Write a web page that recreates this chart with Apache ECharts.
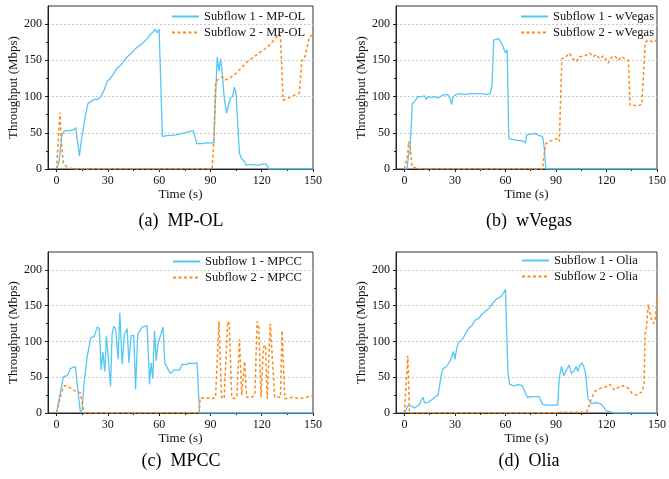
<!DOCTYPE html>
<html><head><meta charset="utf-8">
<script src="https://cdn.jsdelivr.net/npm/echarts@6/dist/echarts.min.js"></script>
<style>html,body{margin:0;padding:0;background:#fff}#c{width:669px;height:479px}</style>
</head><body><div id="c"></div>
<script>
const xTickLabels = [0, 30, 60, 90, 120, 150];
const xMinorTicks = [15, 45, 75, 105, 135];
const yTickLabels = [0, 50, 100, 150, 200];
const yMinorTicks = [25, 75, 125, 175];
const captions = ['(a)  MP-OL', '(b)  wVegas', '(c)  MPCC', '(d)  Olia'];
const algNames = ['MP-OL', 'wVegas', 'MPCC', 'Olia'];

// [time (s), throughput (Mbps)]
const mpolSub1 = [[0,0],[1,0],[1.5,10],[3,45],[4.3,52],[6,53],[7,55],[8,53],[9,52],[10,54],[11.2,57],[12,57],[13.4,18],[14.5,40],[15.6,55],[17,75],[18.3,90],[20,93],[22,96],[24,96],[26,100],[28,110],[29.6,121],[31,124],[33,130],[35.5,139.5],[37,142],[39,148],[41.3,155],[43,158],[45,163],[47.1,168],[49,171],[51,175],[53,180],[55,186],[56.9,190],[57.8,193],[58.8,188],[60,193],[60.8,193],[61.9,45],[65,46],[70,47],[75,50],[78,52],[80,53],[81,52],[82,35],[85,35],[88,36],[90,36],[92,36],[93,100],[94,155],[95,135],[96,152],[97,130],[98,100],[99.4,77],[101.7,98],[103,100],[104,113],[105,105],[106,60],[107,22],[108,15],[109,16],[110,10],[111,5],[112.4,6],[115,6],[118,5],[121,7],[122.5,7],[123.5,3],[124,0],[150,0]];
const mpolSub2 = [[0,0],[1,0],[2,78],[3,30],[4,8],[6,3],[8,1],[10,0],[91,0],[92,40],[93,120],[95,125],[97,127],[99,123],[101,125],[104,130],[112,149],[124,169.5],[130,186],[131,183],[132.5,95],[135,97],[140,103],[142,105],[143.5,150],[145,152],[148,183],[150,185]];

const wvegasSub1 = [[0,0],[1.5,0],[2.5,20],[3.3,25],[4.7,90],[6,93],[8,100],[9,102],[10,100],[12,101],[13,96],[14,100],[16,99],[18,100],[20,98],[22,101],[24,103],[26,102],[27,98],[28,89],[29,100],[31,103],[33,104],[35,103],[40,104],[45,104],[49,103],[51,104],[52,115],[53,178],[56,180],[57,178],[58,172],[59,166],[60,160],[61,165],[62,42],[63,41],[66,40],[70,39],[72,36],[72.5,47],[75,48],[78,49],[80,46],[82,45],[83,30],[84,0],[150,0]];
const wvegasSub2 = [[0,0],[1,0],[2,20],[2.5,38],[3.5,30],[4.5,3],[6,2],[8,1],[10,0],[82,0],[83,20],[84,35],[86,38],[88,40],[91,42],[92,38],[93.5,152],[96,155],[98,160],[100,152],[102,148],[104,155],[107,156],[110,160],[112,155],[114,158],[116,152],[118,156],[120,150],[121,146],[123,154],[125,156],[127,150],[129,155],[131,152],[133,150],[134,88],[136,88],[138,87],[141,89],[143,175],[145,178],[148,175],[150,178]];

const mpccSub1 = [[0,0],[1,0],[4,51],[6,52],[7,55],[8,62],[9,60],[11,65],[12,66],[13,20],[14,0],[15,5],[16,40],[18,80],[20,105],[22,107],[23.8,120],[25,118],[26.1,60],[27.1,85],[28.2,58],[29.2,108],[31.6,37],[32.5,110],[33.5,121],[34.5,118],[36,75],[37,140],[38.4,68],[39.7,110],[41.3,118],[42.3,70],[43.6,108],[45.2,108],[46.2,33],[47.5,110],[50,120],[51,118],[53,122],[54.4,40],[55.3,70],[56.3,48],[57.3,115],[58.3,73],[59.2,95],[61,110],[62.3,120],[63.3,70],[65,62],[66.6,55],[68.6,60],[72,60],[73.4,68],[76,68],[78,70],[80,69],[82.2,70],[83.6,0],[150,0]];
const mpccSub2 = [[0,0],[1,0],[3,30],[4.5,38],[6,38],[8,35],[10,32],[12,30],[14,28],[16,0],[83.5,0],[84,21],[88,21],[91,20],[93,22],[95,128],[96.5,22],[98,20],[100.1,128],[101,125],[102.5,22],[104,20],[105.5,23],[107,103],[108.3,25],[110,72],[111.2,22],[114,22],[116,25],[117.3,128],[118.3,120],[119.6,22],[121,92],[122.2,95],[123.2,20],[125,125],[126,126],[127.6,22],[131,22],[131.9,115],[133.5,20],[138,22],[142,20],[146,22],[150,24]];

const oliaSub1 = [[0,0],[1,0],[2,10],[3,8],[4,10],[6,7],[7,8],[9,12],[10,18],[11,22],[12,14],[13,13],[14,15],[16,18],[18,22],[20,25],[21,26],[22,55],[23,62],[25,65],[27,72],[28,78],[29,86],[30,75],[31,90],[32,98],[35,105],[36,110],[38,118],[40,122],[42,130],[44,132],[46,138],[48,142],[50,146],[53,155],[55,160],[57,162],[59,168],[60,173],[61.5,55],[62.5,40],[65,38],[68,40],[70,38],[71,40],[73,22],[76,23],[80,23],[82,12],[85,11],[91,11],[92,50],[93.3,65],[94.7,52],[96.3,60],[97.8,67],[99.2,55],[101,60],[102,65],[103,58],[104,66],[105.5,70],[106.5,65],[107.6,55],[109,20],[111,13],[113,14],[115,14],[117,12],[118,10],[120,3],[122,2],[124,0],[150,0]];
const oliaSub2 = [[0,0],[1,0],[2,80],[3,0],[4,2],[5,0],[90,0],[92,1],[108,1],[109,5],[111,20],[113,30],[115,33],[117,35],[120,37],[121,35],[122,40],[123,36],[125,32],[127,36],[130,38],[131,40],[133,35],[135,28],[136,26],[138,25],[140,28],[141.3,30],[142.3,40],[142.9,110],[143.8,120],[144.8,152],[145.8,140],[146.8,130],[147.8,125],[149,130],[150,163]];

const sub1Data = [mpolSub1, wvegasSub1, mpccSub1, oliaSub1];
const sub2Data = [mpolSub2, wvegasSub2, mpccSub2, oliaSub2];

const FONT = '"Liberation Serif", "Times New Roman", serif';
const BLUE = '#55c7f2';
const ORANGE = '#fb8a1c';
const AX = '#222';

const grids = [
  {left: 48, top: 6, width: 265, height: 163},
  {left: 396, top: 6, width: 265, height: 163},
  {left: 48, top: 252, width: 265, height: 161},
  {left: 396, top: 252, width: 266, height: 161}
];
const legendPos = [[171, 10], [520, 10], [172, 255], [521, 254]];
const captionPos = [[181, 221], [529, 221], [181, 461], [529, 461]];

const option = {
  animation: false,
  backgroundColor: '#fff',
  textStyle: {fontFamily: FONT},
  grid: grids.map(g => Object.assign({show: true, borderColor: '#333', borderWidth: 1, backgroundColor: 'transparent', containLabel: false}, g)),
  xAxis: [],
  yAxis: [],
  series: [],
  legend: [],
  graphic: []
};

for (let i = 0; i < 4; i++) {
  option.xAxis.push({
    gridIndex: i, type: 'value', min: -5, max: 150, position: 'bottom',
    axisLine: {show: true, onZero: false, lineStyle: {color: AX, width: 1}},
    axisTick: {show: true, inside: false, length: 3, customValues: xTickLabels, lineStyle: {color: AX}},
    axisLabel: {show: true, customValues: xTickLabels, fontSize: 12, color: '#111', fontFamily: FONT, margin: 6},
    splitLine: {show: false},
    name: 'Time (s)', nameLocation: 'middle', nameGap: 18,
    nameTextStyle: {fontSize: 13, color: '#111', fontFamily: FONT}
  });
  option.xAxis.push({
    gridIndex: i, type: 'value', min: -5, max: 150, position: 'bottom',
    axisLine: {show: false, onZero: false},
    axisTick: {show: true, inside: false, length: 2, customValues: xMinorTicks, lineStyle: {color: AX}},
    axisLabel: {show: false},
    splitLine: {show: false}
  });
  option.yAxis.push({
    gridIndex: i, type: 'value', min: 0, max: 225, interval: 50, position: 'left',
    axisLine: {show: true, onZero: false, lineStyle: {color: AX, width: 1}},
    axisTick: {show: true, inside: false, length: 3, customValues: yTickLabels, lineStyle: {color: AX}},
    axisLabel: {show: true, customValues: yTickLabels, fontSize: 12, color: '#111', fontFamily: FONT, margin: 6},
    splitLine: {show: true, lineStyle: {color: '#c8c8c8', type: [2, 2], width: 1}},
    name: 'Throughput (Mbps)', nameLocation: 'middle', nameGap: 26,
    nameTextStyle: {fontSize: 13, color: '#111', fontFamily: FONT}
  });
  option.yAxis.push({
    gridIndex: i, type: 'value', min: 0, max: 225, position: 'left',
    axisLine: {show: false, onZero: false},
    axisTick: {show: true, inside: false, length: 2, customValues: yMinorTicks, lineStyle: {color: AX}},
    axisLabel: {show: false},
    splitLine: {show: false}
  });
  const n1 = 'Subflow 1 - ' + algNames[i];
  const n2 = 'Subflow 2 - ' + algNames[i];
  option.series.push({
    name: n1, type: 'line', xAxisIndex: 2 * i, yAxisIndex: 2 * i,
    data: sub1Data[i], showSymbol: false, symbol: 'none', clip: true,
    lineStyle: {color: BLUE, width: 1.3}, itemStyle: {color: BLUE}
  });
  option.series.push({
    name: n2, type: 'line', xAxisIndex: 2 * i, yAxisIndex: 2 * i,
    data: sub2Data[i], showSymbol: false, symbol: 'none', clip: true,
    lineStyle: {color: ORANGE, width: 1.5, type: [3, 2.5]}, itemStyle: {color: ORANGE}
  });
  option.legend.push({
    data: [n1, n2], orient: 'vertical', left: legendPos[i][0], top: legendPos[i][1],
    itemWidth: 27, itemHeight: 10, itemGap: 3, padding: 0,
    itemStyle: {opacity: 0, borderWidth: 0},
    textStyle: {fontSize: 12.5, color: '#111', fontFamily: FONT},
    selectedMode: false
  });
  option.graphic.push({
    type: 'text', x: captionPos[i][0], y: captionPos[i][1], silent: true,
    style: {text: captions[i], align: 'center', verticalAlign: 'middle', textAlign: 'center', textVerticalAlign: 'middle',
      font: '18px ' + FONT, fill: '#000'}
  });
}

const chart = echarts.init(document.getElementById('c'), null, {renderer: 'canvas'});
chart.setOption(option);
</script>
</body></html>
